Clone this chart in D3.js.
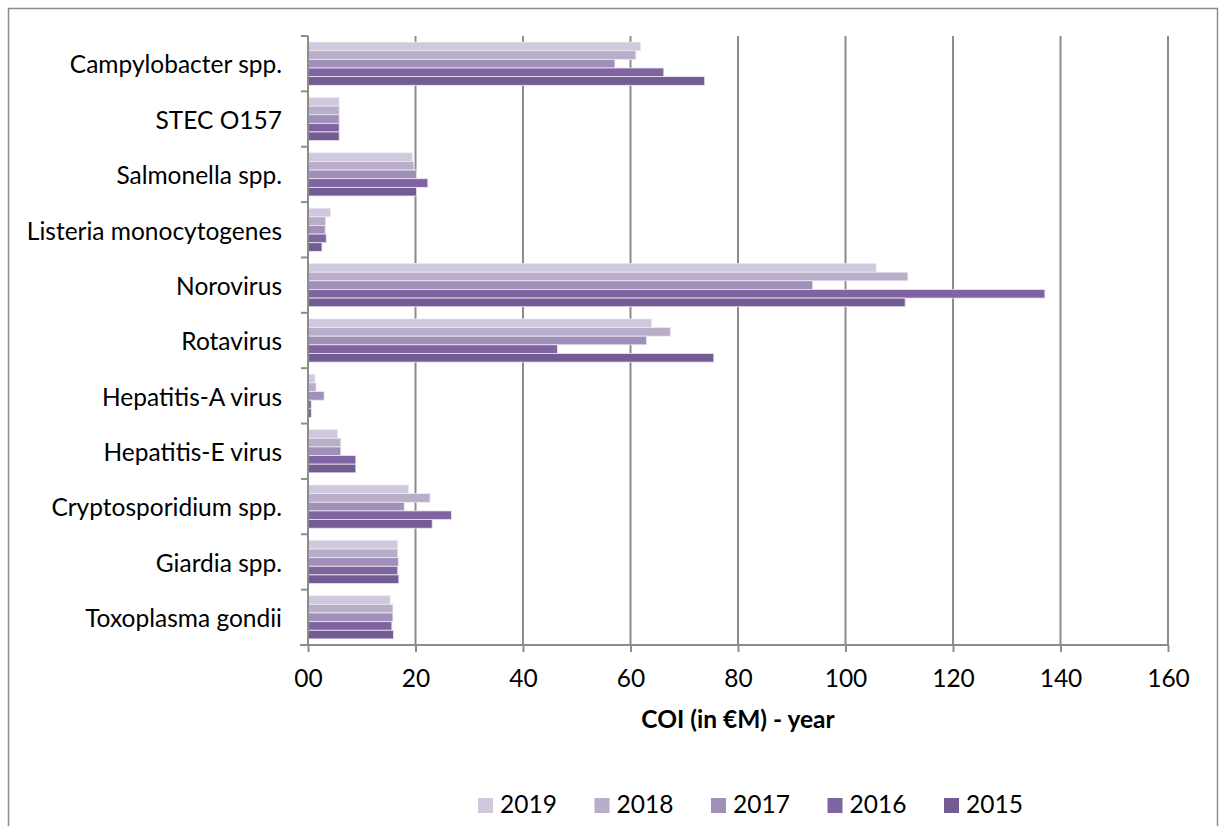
<!DOCTYPE html>
<html><head><meta charset="utf-8">
<script src="https://cdn.jsdelivr.net/npm/d3@7"></script>
<style>
html,body{margin:0;padding:0;background:#fff;}
svg text{font-family:Lato,"Open Sans",sans-serif;fill:#000;}
</style></head>
<body><svg id="c" width="1224" height="826"></svg>
<script>
const categories = ["Campylobacter spp.","STEC O157","Salmonella spp.","Listeria monocytogenes","Norovirus","Rotavirus","Hepatitis-A virus","Hepatitis-E virus","Cryptosporidium spp.","Giardia spp.","Toxoplasma gondii"];
const years = ["2019","2018","2017","2016","2015"];
const v2019 = [61.9,5.8,19.4,4.2,105.7,63.9,1.3,5.5,18.7,16.7,15.3];
const v2018 = [61.0,5.8,19.7,3.3,111.6,67.4,1.5,6.1,22.7,16.7,15.8];
const v2017 = [57.1,5.8,20.2,3.2,93.9,63.0,3.0,6.1,17.9,16.8,15.8];
const v2016 = [66.2,5.8,22.3,3.4,137.1,46.4,0.6,8.9,26.7,16.7,15.6];
const v2015 = [73.8,5.8,20.2,2.6,111.1,75.5,0.6,8.9,23.1,16.9,15.9];
const xTicks = [0,20,40,60,80,100,120,140,160];
const xTickLabels = ["00","20","40","60","80","100","120","140","160"];
const colors = ["#d0c9dd","#b9aeca","#a08fb8","#8064a2","#735b93"];
const xTitle = "COI (in €M) - year";

const series = [v2019,v2018,v2017,v2016,v2015];
const svg = d3.select("#c");
const FS = 24.5;

// outer frame
svg.append("rect").attr("x",8.5).attr("y",8.5).attr("width",1209).attr("height",830)
  .attr("fill","none").attr("stroke","#8c8c8c").attr("stroke-width",1.5);

const pL=308, pR=1168, pT=36, pB=645;
const x = d3.scaleLinear().domain([0,160]).range([pL,pR]);
const y = d3.scaleBand().domain(categories).range([pT,pB]).paddingInner(0.22).paddingOuter(0.11);
const yOuter = d3.scaleBand().domain(categories).range([pT,pB]);
const ySub = d3.scaleBand().domain(years).range([0,y.bandwidth()]);

// gridlines
svg.append("g").selectAll("line").data(xTicks.slice(1)).join("line")
  .attr("x1",d=>x(d)).attr("x2",d=>x(d)).attr("y1",pT).attr("y2",pB)
  .attr("stroke","#8c8c8c").attr("stroke-width",2);

// bars
const g = svg.append("g");
categories.forEach((c,i)=>{
  years.forEach((yr,j)=>{
    g.append("rect")
      .attr("x",x(0)).attr("y",y(c)+ySub(yr))
      .attr("width",x(series[j][i])-x(0)).attr("height",ySub.bandwidth())
      .attr("fill",colors[j]).attr("stroke","#ece8f2").attr("stroke-width",0.8);
  });
});

// x axis
const xAxis = d3.axisBottom(x).tickValues(xTicks).tickFormat((d,i)=>xTickLabels[i]).tickSize(7).tickSizeOuter(0).tickPadding(18);
const gx = svg.append("g").attr("transform",`translate(0,${pB})`).call(xAxis);
gx.select(".domain").attr("stroke","#8c8c8c").attr("stroke-width",2).attr("d",`M${pL-8},0H${pR}`);
gx.selectAll(".tick line").attr("stroke","#8c8c8c").attr("stroke-width",2);
gx.selectAll("text").attr("font-size",FS).attr("font-family","Lato, sans-serif").attr("fill","#000");

// y axis
const yAxis = d3.axisLeft(yOuter).tickSize(0).tickPadding(26);
const gy = svg.append("g").attr("transform",`translate(${pL},0)`).call(yAxis);
gy.select(".domain").attr("stroke","#8c8c8c").attr("stroke-width",2).attr("d",`M0,${pT}V${pB}`);
gy.selectAll("text").attr("font-size",FS).attr("font-family","Lato, sans-serif").attr("fill","#000").attr("dy","0.4em");
// category separator ticks
svg.append("g").selectAll("line").data(d3.range(categories.length+1)).join("line")
  .attr("x1",pL-7).attr("x2",pL).attr("y1",d=>pT+d*yOuter.step()).attr("y2",d=>pT+d*yOuter.step())
  .attr("stroke","#8c8c8c").attr("stroke-width",2);

// x title
svg.append("text").attr("x",738).attr("y",728).attr("text-anchor","middle")
  .attr("font-size",FS).attr("font-weight","bold").text(xTitle);

// legend
const lg = svg.append("g");
years.forEach((yr,j)=>{
  const lx = 478 + j*116.5;
  lg.append("rect").attr("x",lx).attr("y",798).attr("width",15).attr("height",15).attr("fill",colors[j]);
  lg.append("text").attr("x",lx+22).attr("y",813).attr("font-size",FS).text(yr);
});
</script></body></html>
